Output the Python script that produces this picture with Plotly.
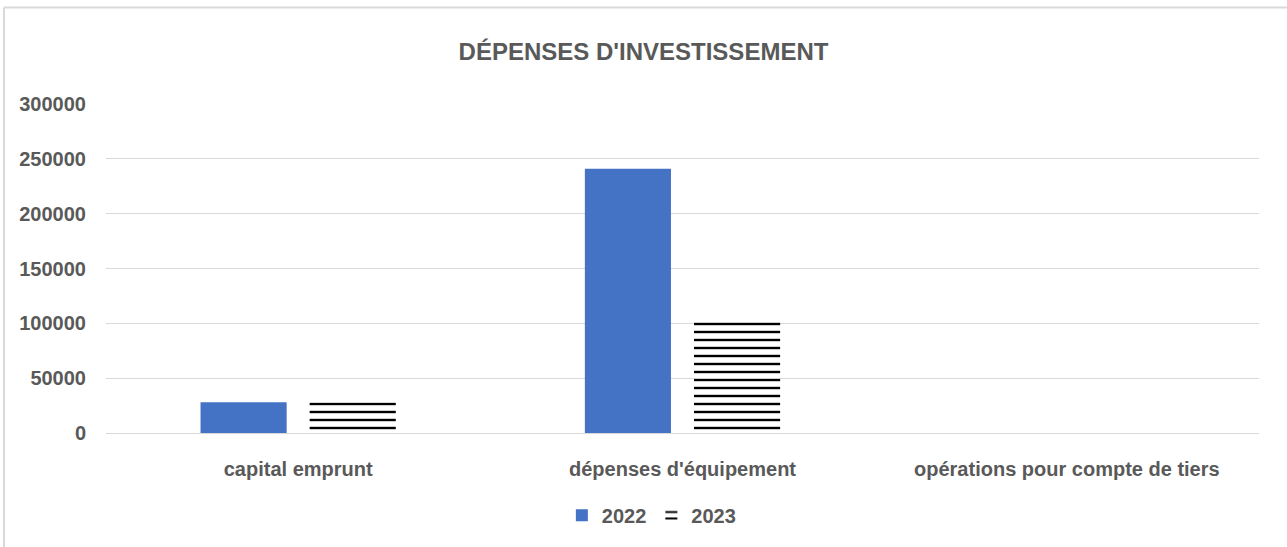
import plotly.graph_objects as go

categories = ["capital emprunt", "dépenses d'équipement", "opérations pour compte de tiers"]
values_2022 = [28000, 241000, 0]
values_2023 = [28000, 102000, 0]
y_ticks = [0, 50000, 100000, 150000, 200000, 250000, 300000]
y_tick_labels = ["0", "50000", "100000", "150000", "200000", "250000", "300000"]

FONT = "Liberation Sans, Arial, sans-serif"
GREY = "#595959"

fig = go.Figure()
fig.add_trace(go.Bar(
    x=categories, y=values_2022, name="<b>2022</b>",
    marker=dict(color="#4472C4", line=dict(width=0)),
))
fig.add_trace(go.Bar(
    x=categories, y=values_2023, name="<b>2023</b>",
    marker=dict(color="white", line=dict(width=0),
                pattern=dict(shape="-", fgcolor="black", bgcolor="white",
                             size=8, solidity=0.3, fillmode="replace")),
))

fig.update_layout(
    width=1287, height=547,
    margin=dict(l=106, r=28, t=104, b=112),
    paper_bgcolor="white", plot_bgcolor="white",
    barmode="group", bargap=0.432, bargroupgap=0.211,
    title=dict(text="<b>DÉPENSES D'INVESTISSEMENT</b>", x=0.5, xanchor="center",
               y=1 - 52 / 547, yanchor="middle",
               font=dict(family=FONT, size=24, color=GREY)),
    font=dict(family=FONT, size=20, color=GREY),
    xaxis=dict(showgrid=False, showline=True, linecolor="#D9D9D9", linewidth=1,
               ticks="", ticklabelstandoff=18,
               tickmode="array", tickvals=categories,
               ticktext=["<b>" + c + "</b>" for c in categories],
               tickfont=dict(family=FONT, size=20, color=GREY)),
    yaxis=dict(range=[0, 300000], tickmode="array", tickvals=y_ticks,
               ticktext=["<b>" + t + "</b>" for t in y_tick_labels],
               showgrid=True, gridcolor="#D9D9D9", gridwidth=1,
               zeroline=False, showline=False,
               ticks="", ticklabelstandoff=19,
               tickfont=dict(family=FONT, size=20, color=GREY)),
    legend=dict(orientation="h", x=0.473, xanchor="center", y=-0.25, yanchor="middle",
                font=dict(family=FONT, size=20, color=GREY),
                itemwidth=30, traceorder="normal"),
    shapes=[
        dict(type="line", xref="paper", yref="paper", x0=-0.0885, x1=1.1,
             y0=1.293, y1=1.293, line=dict(color="#D9D9D9", width=2)),
        dict(type="line", xref="paper", yref="paper", x0=-0.0885, x1=-0.0885,
             y0=1.293, y1=-0.5, line=dict(color="#D9D9D9", width=2)),
    ],
)

fig.write_html("out.html")
